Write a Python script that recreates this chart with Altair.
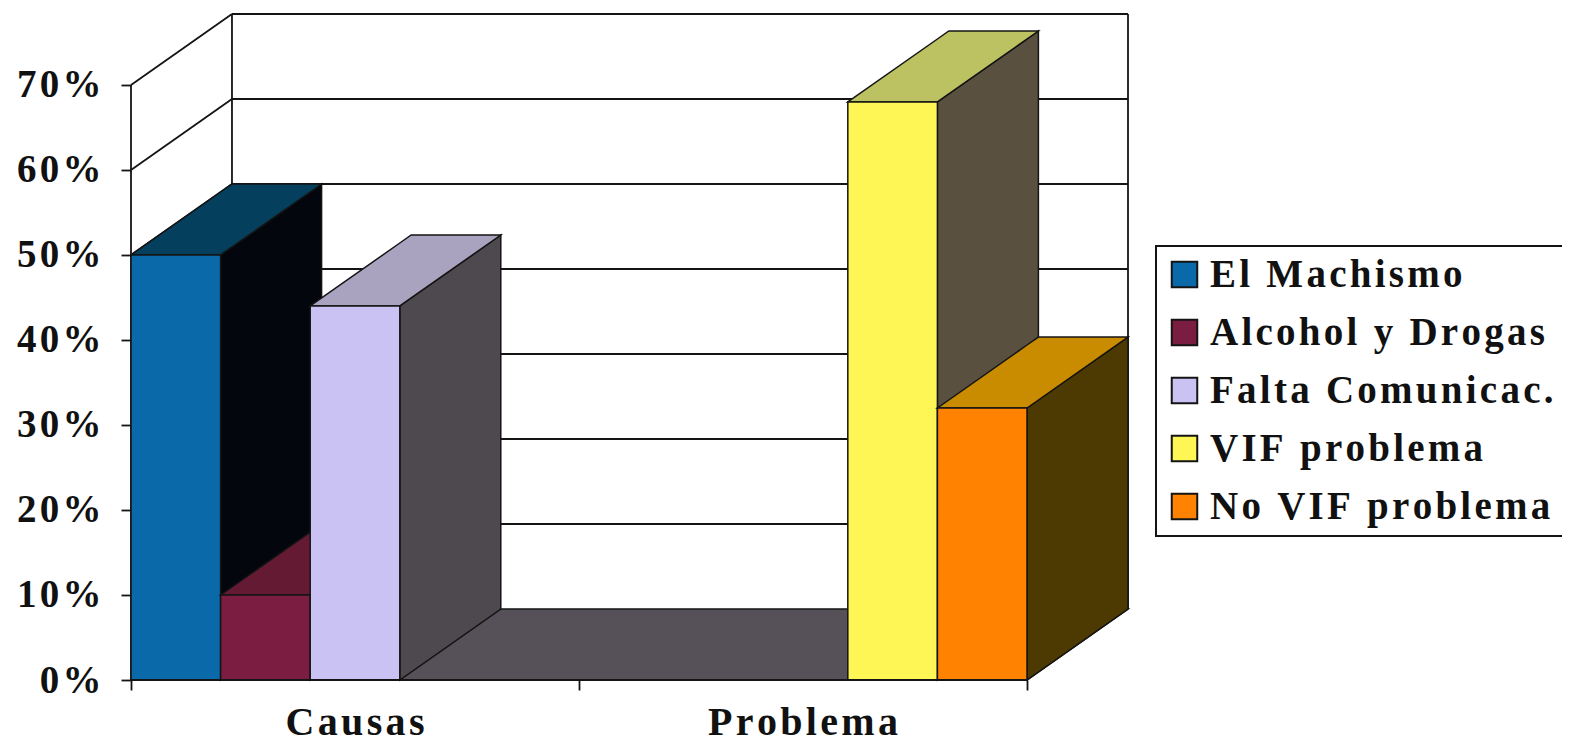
import altair as alt
import pandas as pd

# Values
SERIES = ["El Machismo", "Alcohol y Drogas", "Falta Comunicac.", "VIF problema", "No VIF problema"]
VALUES = [50, 10, 44, 68, 32]
BAR_STARTS = [0, 1, 2, 8, 9]
CATEGORIES = ["Causas", "Problema"]
CATEGORY_POS = [2.5, 7.5]
Y_TICKS = [0, 10, 20, 30, 40, 50, 60, 70]
X_TICKS = [0, 5, 10]

FRONT = ["#0a69a8", "#7a1d40", "#c9c2f3", "#fdf655", "#ff8200"]
TOP = ["#053f5e", "#651a34", "#a9a3bf", "#bcc162", "#c98b00"]
SIDE = ["#03060c", "#5c1a30", "#4e494f", "#5a5040", "#4c3a02"]
FLOOR = "#565159"
INK = "#141414"

DX = 1.127   # depth of the 3D box, in bar widths
DY = 8.35    # depth of the 3D box, in percent
X_MAX = 10 + DX
Y_MAX = 70 + DY
FONT = "Liberation Serif"
HAIR = "\u200a"


def spaced(s):
    return HAIR.join(s)


x_scale = alt.Scale(domain=[0, X_MAX], nice=False, zero=False)
y_scale = alt.Scale(domain=[0, Y_MAX], nice=False, zero=False)
x_axis = alt.Axis(values=X_TICKS, labels=False, domain=False, grid=False,
                  tickSize=10, tickColor=INK, tickWidth=1.8)
y_axis = alt.Axis(values=Y_TICKS, domain=False, grid=False, tickSize=10,
                  tickColor=INK, tickWidth=1.8, labelFont=FONT, labelFontWeight="bold",
                  labelFontSize=39, labelColor="#111111", labelPadding=20,
                  labelExpr="join(split(datum.value + '', ''), '" + HAIR + "') + '" + HAIR + "%'")


def X():
    return alt.X("x:Q", scale=x_scale, title=None, axis=x_axis)


def Y():
    return alt.Y("y:Q", scale=y_scale, title=None, stack=None, axis=y_axis)


def face(points, color, stroke=INK, width=1.5):
    df = pd.DataFrame(points, columns=["x", "y", "y2"])
    return alt.Chart(df).mark_area(
        color=color, stroke=stroke, strokeWidth=width, interpolate="linear", opacity=1
    ).encode(x=X(), y=Y(), y2="y2:Q")


def slanted_top(x0, x1, v):
    w = x1 - x0
    return [
        (x0, v, v),
        (x1, v + DY * w / DX, v),
        (x0 + DX, v + DY, v + DY * (x0 + DX - x1) / DX),
        (x1 + DX, v + DY, v + DY),
    ]


# wall lines
rows = []
gid = 0


def seg(x0, y0, x1, y1):
    global gid
    rows.append({"x": x0, "y": y0, "g": gid, "o": 0})
    rows.append({"x": x1, "y": y1, "g": gid, "o": 1})
    gid += 1


for v in Y_TICKS[1:]:
    seg(0, v, DX, v + DY)
    seg(DX, v + DY, 10 + DX, v + DY)
seg(DX, DY, DX, 70 + DY)
seg(10 + DX, DY, 10 + DX, 70 + DY)
seg(0, 0, DX, DY)
seg(0, 0, 0, 70)

walls = alt.Chart(pd.DataFrame(rows)).mark_line(color=INK, strokeWidth=1.8).encode(
    x=X(), y=Y(), detail="g:N", order="o:Q",
)

floor = face(
    [(0, 0, 0), (DX, DY, 0), (10, DY, 0), (10 + DX, DY, DY)],
    FLOOR,
)

legend = alt.Legend(
    orient="none", legendX=1025, legendY=232, title=None,
    symbolType="square", symbolSize=650, symbolStrokeColor=INK, symbolStrokeWidth=2,
    labelFont=FONT, labelFontWeight="bold", labelFontSize=39, labelColor="#111111",
    labelLimit=420, labelOffset=6, rowPadding=18, padding=9,
    fillColor="white", strokeColor=INK,
    labelExpr="join(split(datum.label, ''), '" + HAIR + "')",
)

layers = [walls, floor]
for i, name in enumerate(SERIES):
    x0 = BAR_STARTS[i]
    x1 = x0 + 1
    v = VALUES[i]
    layers.append(face([(x1, v, 0), (x1 + DX, v + DY, DY)], SIDE[i]))
    layers.append(face(slanted_top(x0, x1, v), TOP[i]))
    front = alt.Chart(pd.DataFrame([{"serie": name, "x": x0, "x2": x1, "y": v, "y2": 0}])).mark_rect(
        stroke=INK, strokeWidth=1.5
    ).encode(
        x=X(), x2="x2:Q", y=Y(), y2="y2:Q",
        color=alt.Color("serie:N", scale=alt.Scale(domain=SERIES, range=FRONT), legend=legend),
    )
    layers.append(front)

baseline = alt.Chart(pd.DataFrame({"x": [0], "x2": [10], "y": [0]})).mark_rule(
    color=INK, strokeWidth=2
).encode(x=X(), x2="x2:Q", y=Y())
layers.append(baseline)

labels = alt.Chart(
    pd.DataFrame({"x": CATEGORY_POS, "y": [0, 0], "t": [spaced(c) for c in CATEGORIES]})
).mark_text(
    font=FONT, fontWeight="bold", fontSize=40, color="#111111", dy=55, baseline="alphabetic"
).encode(x=X(), y=Y(), text="t:N")
layers.append(labels)

chart = alt.layer(*layers).properties(
    width=997, height=666,
    autosize=alt.AutoSizeParams(type="none"),
    padding={"left": 123, "top": 6, "right": 434, "bottom": 64},
).configure_view(stroke=None).configure_legend(strokeWidth=2)

chart.save("out.html", embed_options={"renderer": "svg", "actions": False})
